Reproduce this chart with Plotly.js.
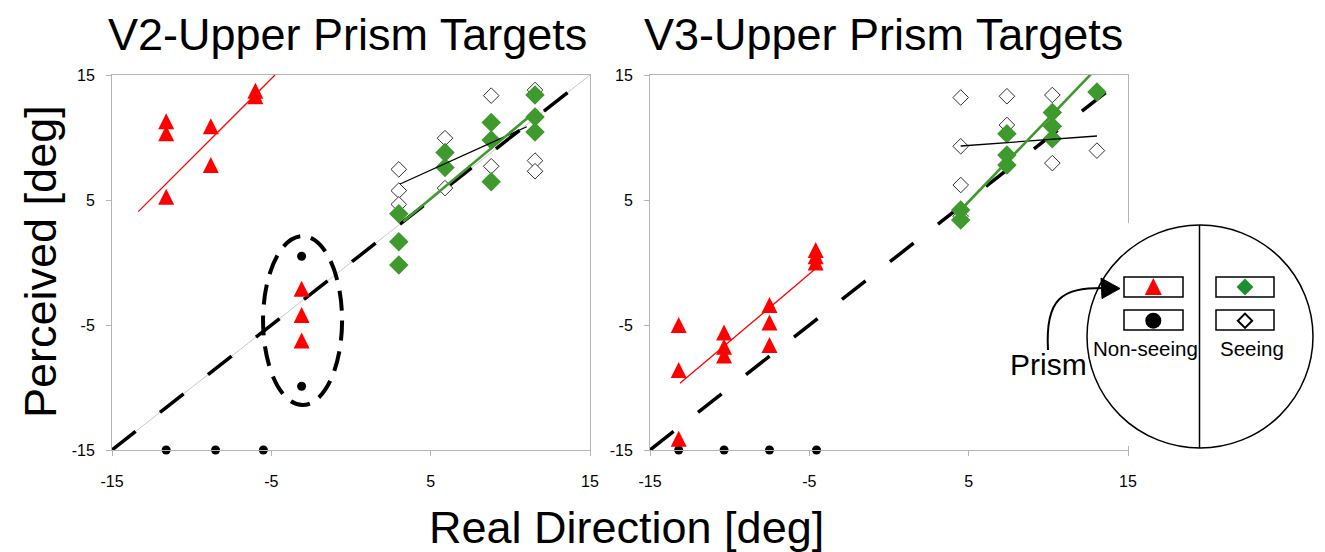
<!DOCTYPE html>
<html><head><meta charset="utf-8">
<script src="https://cdn.plot.ly/plotly-3.0.1.min.js"></script>
<style>html,body{margin:0;padding:0;background:#fff}#chart{width:1325px;height:552px}</style>
</head><body><div id="chart"></div>
<script>
// ---- tick labels / reference line ----
const tickVals = [-15, -5, 5, 15];
const tickText = ['-15', '-5', '5', '15'];
const identityX = [-15, 15];
const identityY = [-15, 15];

// ---- V2 panel ----
const v2TriX = [-11.6, -11.6, -11.6, -8.8, -8.8, -6.0, -6.0, -3.1, -3.1, -3.1];
const v2TriY = [11.3, 10.35, 5.25, 10.9, 7.8, 13.75, 13.3, -2.1, -4.2, -6.25];
const v2DotX = [-11.6, -8.5, -5.5, -3.1, -3.1];
const v2DotY = [-15, -15, -15, 0.5, -9.9];
const v2OpenX = [3.0, 3.0, 3.0, 5.9, 5.9, 8.8, 8.8, 11.55, 11.55, 11.55];
const v2OpenY = [7.45, 5.75, 4.65, 9.95, 5.95, 13.35, 7.7, 13.8, 8.15, 7.3];
const v2GreenX = [3.0, 3.0, 3.0, 5.9, 5.9, 8.8, 8.8, 8.8, 11.55, 11.55, 11.55];
const v2GreenY = [3.9, 1.65, -0.2, 8.8, 7.6, 11.2, 9.8, 6.45, 13.4, 11.65, 10.45];
const v2RedFitX = [-13.35, -4.77];
const v2RedFitY = [4.07, 15.0];
const v2GreenFitX = [3.28, 11.23];
const v2GreenFitY = [3.27, 11.72];
const v2BlackFitX = [3.08, 11.03];
const v2BlackFitY = [6.28, 10.86];

// ---- V3 panel ----
const v3TriX = [-13.2, -13.2, -13.2, -10.35, -10.35, -10.35, -7.5, -7.5, -7.5, -4.6, -4.6, -4.6];
const v3TriY = [-5.0, -8.6, -14.1, -5.6, -6.75, -7.45, -3.4, -4.8, -6.6, 1.0, 0.5, 0.0];
const v3DotX = [-13.2, -10.35, -7.5, -4.55];
const v3DotY = [-15, -15, -15, -15];
const v3OpenX = [4.5, 7.4, 10.25, 4.5, 7.4, 10.25, 13.05, 4.5, 4.5];
const v3OpenY = [13.2, 13.3, 13.4, 9.3, 11.0, 7.95, 8.95, 6.2, 3.7];
const v3GreenX = [4.5, 4.5, 7.4, 7.4, 7.4, 10.25, 10.25, 10.25, 13.05];
const v3GreenY = [4.2, 3.4, 10.3, 8.6, 7.8, 12.0, 10.9, 9.9, 13.65];
const v3RedFitX = [-13.12, -4.58];
const v3RedFitY = [-9.67, -0.47];
const v3GreenFitX = [4.5, 13.0];
const v3GreenFitY = [4.2, 15.5];
const v3BlackFitX = [4.5, 13.05];
const v3BlackFitY = [9.32, 10.12];

// ---- styles ----
const RED = '#ff0000', GREEN = '#3e9a2c';
const FONT = 'Liberation Sans, Arial, Helvetica, sans-serif';
const TRI_SIZE = 16;
const triShift = (TRI_SIZE / 2) / 12.5; // arrow-up apex sits on the point; shift axis so the triangle is centred

function panelTraces(xa, ya, yTri, d) {
  const t = [];
  if (d.grayId) t.push({x: identityX, y: identityY, xaxis: xa, yaxis: ya, mode: 'lines', line: {color: '#c8c8c8', width: 1}, hoverinfo: 'skip'});
  t.push({x: identityX, y: identityY, xaxis: xa, yaxis: ya, mode: 'lines', line: {color: '#000', width: 3.5, dash: '30px,31px'}, hoverinfo: 'skip'});
  t.push({x: d.openX, y: d.openY, xaxis: xa, yaxis: ya, mode: 'markers', cliponaxis: false,
          marker: {symbol: 'diamond', size: 12, color: '#fff', line: {color: '#333', width: 1}}});
  t.push({x: d.greenX, y: d.greenY, xaxis: xa, yaxis: ya, mode: 'markers', cliponaxis: false,
          marker: {symbol: 'diamond', size: 15, color: GREEN, line: {width: 0}}});
  t.push({x: d.blackFitX, y: d.blackFitY, xaxis: xa, yaxis: ya, mode: 'lines', line: {color: '#000', width: 1.3}});
  t.push({x: d.greenFitX, y: d.greenFitY, xaxis: xa, yaxis: ya, mode: 'lines', line: {color: GREEN, width: 2.6}});
  t.push({x: d.redFitX, y: d.redFitY, xaxis: xa, yaxis: ya, mode: 'lines', line: {color: RED, width: 1.3}});
  t.push({x: d.dotX, y: d.dotY, xaxis: xa, yaxis: ya, mode: 'markers', cliponaxis: false,
          marker: {symbol: 'circle', size: 9, color: '#000'}});
  t.push({x: d.triX, y: d.triY, xaxis: xa, yaxis: yTri, mode: 'markers', cliponaxis: false,
          marker: {symbol: 'arrow-up', size: TRI_SIZE, color: RED, line: {width: 0}}});
  return t;
}

const data = [].concat(
  panelTraces('x', 'y', 'y3', {grayId: true, openX: v2OpenX, openY: v2OpenY, greenX: v2GreenX, greenY: v2GreenY,
    blackFitX: v2BlackFitX, blackFitY: v2BlackFitY, greenFitX: v2GreenFitX, greenFitY: v2GreenFitY,
    redFitX: v2RedFitX, redFitY: v2RedFitY, dotX: v2DotX, dotY: v2DotY, triX: v2TriX, triY: v2TriY}),
  panelTraces('x2', 'y2', 'y4', {grayId: false, openX: v3OpenX, openY: v3OpenY, greenX: v3GreenX, greenY: v3GreenY,
    blackFitX: v3BlackFitX, blackFitY: v3BlackFitY, greenFitX: v3GreenFitX, greenFitY: v3GreenFitY,
    redFitX: v3RedFitX, redFitY: v3RedFitY, dotX: v3DotX, dotY: v3DotY, triX: v3TriX, triY: v3TriY}),
  [
    // inset legend symbols (pixel overlay axes)
    {x: [1153.3], y: [278], xaxis: 'x5', yaxis: 'y5', mode: 'markers', marker: {symbol: 'arrow-up', size: 17, color: RED, line: {width: 0}}},
    {x: [1153.3], y: [320.7], xaxis: 'x5', yaxis: 'y5', mode: 'markers', marker: {symbol: 'circle', size: 16, color: '#000'}},
    {x: [1245], y: [287], xaxis: 'x5', yaxis: 'y5', mode: 'markers', marker: {symbol: 'diamond', size: 13, color: '#1f8e33', line: {width: 0}}},
    {x: [1245], y: [320.7], xaxis: 'x5', yaxis: 'y5', mode: 'markers', marker: {symbol: 'diamond', size: 11, color: '#fff', line: {color: '#000', width: 2}}}
  ]
);

const W = 1325, H = 552;
const xDom1 = [112 / W, 590 / W], xDom2 = [650 / W, 1128 / W], yDom = [1 - 450 / H, 1 - 75 / H];
const axisBase = {
  range: [-15, 15], tickvals: tickVals, ticktext: tickText, showgrid: false, zeroline: false,
  showline: true, linecolor: '#b4b4b4', linewidth: 1, mirror: true, ticks: 'outside', ticklen: 5,
  tickcolor: '#b4b4b4', tickfont: {size: 16, color: '#000', family: FONT}, fixedrange: true
};
const xAxis = (dom, anchor) => Object.assign({}, axisBase, {domain: dom, anchor: anchor, ticklabelstandoff: 12});
const yAxis = (anchor) => Object.assign({}, axisBase, {domain: yDom, anchor: anchor, ticklabelstandoff: 8});
const hidden = {visible: false, fixedrange: true};

const boxLine = {color: '#000', width: 1.5};
const shapes = [
  // dashed ellipse around the misplaced targets (V2 panel)
  {type: 'circle', xref: 'x', yref: 'y', x0: -5.52, x1: -0.56, y0: -11.4, y1: 2.12,
   line: {color: '#000', width: 4, dash: '20px,11px'}, layer: 'above'},
  // inset (pixel coordinates)
  {type: 'rect', xref: 'x5', yref: 'y5', x0: 1075, x1: 1325, y0: 223, y1: 446, line: {width: 0}, fillcolor: '#fff', layer: 'below'},
  {type: 'circle', xref: 'x5', yref: 'y5', x0: 1087, x1: 1313, y0: 225, y1: 448, line: boxLine, fillcolor: '#fff', layer: 'below'},
  {type: 'line', xref: 'x5', yref: 'y5', x0: 1199.5, x1: 1199.5, y0: 225, y1: 448, line: boxLine, layer: 'below'},
  {type: 'rect', xref: 'x5', yref: 'y5', x0: 1124, x1: 1183, y0: 277, y1: 297, line: boxLine, fillcolor: '#fff', layer: 'below'},
  {type: 'rect', xref: 'x5', yref: 'y5', x0: 1124, x1: 1183, y0: 310, y1: 330, line: boxLine, fillcolor: '#fff', layer: 'below'},
  {type: 'rect', xref: 'x5', yref: 'y5', x0: 1216, x1: 1274, y0: 277, y1: 297, line: boxLine, fillcolor: '#fff', layer: 'below'},
  {type: 'rect', xref: 'x5', yref: 'y5', x0: 1216, x1: 1274, y0: 310, y1: 330, line: boxLine, fillcolor: '#fff', layer: 'below'},
  {type: 'path', xref: 'x5', yref: 'y5', path: 'M1048,350 C1045,298 1062,288 1103,288', line: {color: '#000', width: 2}, layer: 'below'},
  {type: 'path', xref: 'x5', yref: 'y5', path: 'M1101,278 L1120,288.5 L1102,298.5 Z', line: {color: '#000', width: 1}, fillcolor: '#000', layer: 'below'}
];

const ann = (text, x, y, size, extra) => Object.assign({text: text, x: x, y: y, xref: 'x5', yref: 'y5', showarrow: false,
  xanchor: 'center', yanchor: 'middle', font: {family: FONT, size: size, color: '#000'}}, extra || {});
const annotations = [
  ann('V2-Upper Prism Targets', 347, 34.4, 45),
  ann('V3-Upper Prism Targets', 883, 34.4, 45),
  ann('Real Direction [deg]', 626, 527, 45),
  ann('Perceived [deg]', 40, 262, 45, {textangle: -90}),
  ann('Non-seeing', 1145, 348.4, 20.5),
  ann('Seeing', 1252, 348.4, 20.5),
  ann('Prism', 1048, 364.6, 30)
];

const layout = {
  width: W, height: H, margin: {l: 0, r: 0, t: 0, b: 0},
  paper_bgcolor: '#fff', plot_bgcolor: 'rgba(0,0,0,0)', showlegend: false,
  font: {family: FONT, color: '#000'},
  xaxis: xAxis(xDom1, 'y'), yaxis: yAxis('x'),
  xaxis2: xAxis(xDom2, 'y2'), yaxis2: yAxis('x2'),
  yaxis3: Object.assign({}, hidden, {overlaying: 'y', anchor: 'x', range: [-15 - triShift, 15 - triShift]}),
  yaxis4: Object.assign({}, hidden, {overlaying: 'y2', anchor: 'x2', range: [-15 - triShift, 15 - triShift]}),
  xaxis5: Object.assign({}, hidden, {domain: [0, 1], range: [0, W], anchor: 'y5'}),
  yaxis5: Object.assign({}, hidden, {domain: [0, 1], range: [H, 0], anchor: 'x5'}),
  shapes: shapes, annotations: annotations
};

Plotly.newPlot('chart', data, layout, {displayModeBar: false, staticPlot: true});
</script></body></html>
